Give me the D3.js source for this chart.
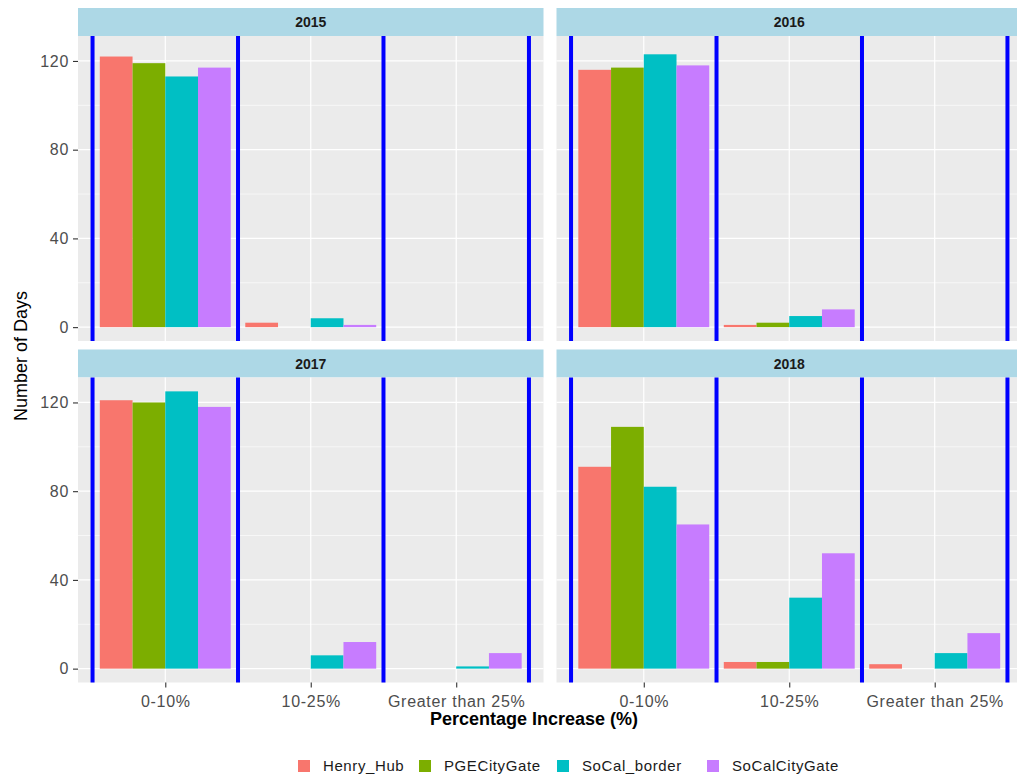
<!DOCTYPE html>
<html>
<head>
<meta charset="utf-8">
<script src="https://cdn.jsdelivr.net/npm/d3@7/dist/d3.min.js"></script>
<style>
  html, body { margin: 0; padding: 0; background: #ffffff; }
  svg { display: block; font-family: "Liberation Sans", Arial, sans-serif; }
</style>
</head>
<body>
<svg id="chart" width="1017" height="776"></svg>
<script>
// Days per price-increase bucket, by year (rows) and bucket (columns)
const years = ["2015", "2016", "2017", "2018"];
const categories = ["0-10%", "10-25%", "Greater than 25%"];
const seriesNames = ["Henry_Hub", "PGECityGate", "SoCal_border", "SoCalCityGate"];
const seriesColors = ["#F8766D", "#7CAE00", "#00BFC4", "#C77CFF"];

const henryHub      = [[122, 2, 0], [116, 1, 0], [121, 0, 0], [91, 3, 2]];
const pgeCityGate   = [[119, 0, 0], [117, 2, 0], [120, 0, 0], [109, 3, 0]];
const soCalBorder   = [[113, 4, 0], [123, 5, 0], [125, 6, 1], [82, 32, 7]];
const soCalCityGate = [[117, 1, 0], [118, 8, 0], [118, 12, 7], [65, 52, 16]];

const yTicks = [0, 40, 80, 120];
const yMinor = [20, 60, 100];
const separators = [0.5, 1.5, 2.5, 3.5];

const seriesValues = [henryHub, pgeCityGate, soCalBorder, soCalCityGate];

// long-format rows for the bars
const rows = [];
years.forEach((yr, yi) => {
  categories.forEach((cat, ci) => {
    seriesNames.forEach((s, si) => {
      const v = seriesValues[si][yi][ci];
      if (v > 0) rows.push({ year: yr, yi, cat, ci, series: s, si, value: v });
    });
  });
});

const svg = d3.select("#chart");

// facet layout (2 x 2)
const colX = [78, 556.5];
const panelW = 465.5;
const stripTop = [8, 349.5];
const stripH = 28;
const panelH = 305;

const maxVal = d3.max(rows, d => d.value);
const pad = maxVal * 0.05;

const color = d3.scaleOrdinal().domain(seriesNames).range(seriesColors);
const dodge = d3.scaleBand().domain(seriesNames).range([-0.45, 0.45]);

years.forEach((yr, yi) => {
  const col = yi % 2, row = Math.floor(yi / 2);
  const x0 = colX[col];
  const top = stripTop[row] + stripH;
  const g = svg.append("g");

  const x = d3.scaleLinear().domain([0.4, categories.length + 0.6]).range([x0, x0 + panelW]);
  const y = d3.scaleLinear().domain([-pad, maxVal + pad]).range([top + panelH, top]);

  // strip
  g.append("rect")
    .attr("x", x0).attr("y", stripTop[row])
    .attr("width", panelW).attr("height", stripH)
    .attr("fill", "#ADD8E6");
  g.append("text")
    .attr("x", x0 + panelW / 2).attr("y", stripTop[row] + stripH / 2 + 5)
    .attr("text-anchor", "middle")
    .attr("font-size", 14).attr("font-weight", "bold")
    .attr("fill", "#1A1A1A")
    .text(yr);

  // panel background and grid
  g.append("rect")
    .attr("x", x0).attr("y", top)
    .attr("width", panelW).attr("height", panelH)
    .attr("fill", "#EBEBEB");
  g.selectAll(".minor").data(yMinor).join("line")
    .attr("x1", x0).attr("x2", x0 + panelW)
    .attr("y1", d => y(d)).attr("y2", d => y(d))
    .attr("stroke", "#ffffff").attr("stroke-width", 0.6);
  g.selectAll(".major").data(yTicks).join("line")
    .attr("x1", x0).attr("x2", x0 + panelW)
    .attr("y1", d => y(d)).attr("y2", d => y(d))
    .attr("stroke", "#ffffff").attr("stroke-width", 1.2);
  g.selectAll(".vmajor").data(categories).join("line")
    .attr("x1", (d, i) => x(i + 1)).attr("x2", (d, i) => x(i + 1))
    .attr("y1", top).attr("y2", top + panelH)
    .attr("stroke", "#ffffff").attr("stroke-width", 1.2);

  // bars
  g.selectAll(".bar").data(rows.filter(r => r.yi === yi)).join("rect")
    .attr("x", d => x(d.ci + 1 + dodge(d.series)))
    .attr("width", d => x(d.ci + 1 + dodge(d.series) + dodge.bandwidth()) - x(d.ci + 1 + dodge(d.series)))
    .attr("y", d => y(d.value))
    .attr("height", d => y(0) - y(d.value))
    .attr("fill", d => color(d.series));

  // bucket separators
  g.selectAll(".sep").data(separators).join("line")
    .attr("x1", d => x(d)).attr("x2", d => x(d))
    .attr("y1", top).attr("y2", top + panelH)
    .attr("stroke", "#0000FF").attr("stroke-width", 4);

  // y axis on left column
  if (col === 0) {
    const ya = g.append("g").attr("transform", `translate(${x0},0)`)
      .call(d3.axisLeft(y).tickValues(yTicks).tickSize(5).tickPadding(4));
    ya.select(".domain").remove();
    ya.selectAll("line").attr("stroke", "#333333").attr("stroke-width", 1.1);
    ya.selectAll("text").attr("font-size", 16).attr("letter-spacing", 0.7).attr("fill", "#4D4D4D")
      .attr("font-family", "Liberation Sans, Arial, sans-serif");
  }
  // x axis on bottom row
  if (row === 1) {
    const xa = g.append("g").attr("transform", `translate(0,${top + panelH})`)
      .call(d3.axisBottom(x).tickValues([1, 2, 3]).tickFormat((d) => categories[d - 1]).tickSize(5).tickPadding(8));
    xa.select(".domain").remove();
    xa.selectAll("line").attr("stroke", "#333333").attr("stroke-width", 1.1);
    xa.selectAll("text").attr("font-size", 16).attr("letter-spacing", 0.7).attr("fill", "#4D4D4D")
      .attr("font-family", "Liberation Sans, Arial, sans-serif");
  }
});

// axis titles
svg.append("text")
  .attr("x", 534).attr("y", 725)
  .attr("text-anchor", "middle")
  .attr("font-size", 18).attr("font-weight", "bold").attr("fill", "#000")
  .text("Percentage Increase (%)");
svg.append("text")
  .attr("transform", "translate(27,356) rotate(-90)")
  .attr("text-anchor", "middle")
  .attr("font-size", 18).attr("fill", "#000")
  .text("Number of Days");

// legend
const legendX = [298, 419, 557, 707];
const lg = svg.append("g");
seriesNames.forEach((s, i) => {
  lg.append("rect")
    .attr("x", legendX[i]).attr("y", 760)
    .attr("width", 12).attr("height", 12)
    .attr("fill", color(s));
  lg.append("text")
    .attr("x", legendX[i] + 25).attr("y", 771)
    .attr("font-size", 15).attr("letter-spacing", 0.6).attr("fill", "#1A1A1A")
    .text(s);
});
</script>
</body>
</html>
